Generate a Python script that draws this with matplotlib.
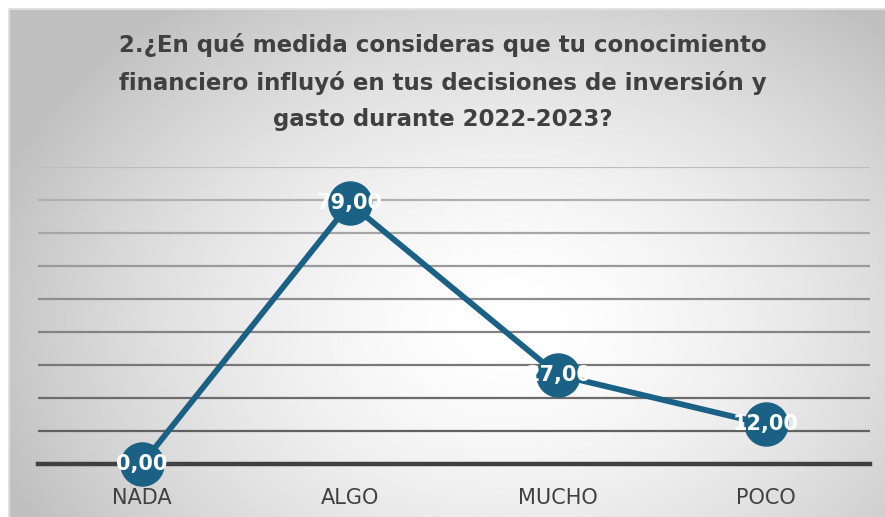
import numpy as np
import matplotlib
matplotlib.use("Agg")
import matplotlib.pyplot as plt
from matplotlib.colors import to_rgb

categories = ["NADA", "ALGO", "MUCHO", "POCO"]
values = [0.0, 79.0, 27.0, 12.0]
title = ("2.¿En qué medida consideras que tu conocimiento\n"
         "financiero influyó en tus decisiones de inversión y\n"
         "gasto durante 2022-2023?")

W, H = 885, 517
plt.rcParams['font.family'] = ['DejaVu Sans']
fig = plt.figure(figsize=(W / 100, H / 100), dpi=100)
fig.patch.set_facecolor("white")

# background radial gradient
bg = fig.add_axes([8 / W, 0, 1 - 8 / W, 509 / H])
bg.set_axis_off()
ny, nx = 300, 500
yy, xx = np.mgrid[0:ny, 0:nx]
cx, cy = 0.57 * nx, 0.62 * ny
r = np.sqrt(((xx - cx) / (0.62 * nx)) ** 2 + ((yy - cy) / (0.80 * ny)) ** 2)
r = np.clip(r, 0, 1)
g = 1 - 0.25 * r ** 1.6
bg.imshow(g, cmap="gray", vmin=0, vmax=1, aspect="auto", extent=[0, 1, 0, 1], origin="upper")
bg.set_xlim(0, 1)
bg.set_ylim(0, 1)
bg.plot([0, 1], [0.999, 0.999], color="#e6e6e6", lw=1.2)
bg.plot([0.001, 0.001], [0, 1], color="#e6e6e6", lw=1.2)

ax = fig.add_axes([38 / W, 53 / H, 832 / W, 297 / H])
ax.set_facecolor("none")
x = np.arange(len(categories))
ax.set_xlim(-0.5, len(categories) - 0.5)
ax.set_ylim(0, 90)
ax.set_yticks(np.arange(0, 91, 10))
ax.yaxis.grid(True, linewidth=1.6)
ax.set_axisbelow(True)
gl = ax.get_ygridlines()
top_c = np.array(to_rgb("#bdbdbd"))
bot_c = np.array(to_rgb("#555555"))
for i, line in enumerate(gl):
    t = i / (len(gl) - 1)
    line.set_color(tuple(bot_c + (top_c - bot_c) * t))
ax.tick_params(axis="y", left=False, labelleft=False)
for s in ["left", "right", "top"]:
    ax.spines[s].set_visible(False)
ax.spines["bottom"].set_color("#404040")
ax.spines["bottom"].set_linewidth(3.2)
ax.spines["bottom"].set_zorder(2.5)
ax.set_xticks(x)
ax.set_xticklabels(categories, fontsize=15, color="#404040")
ax.tick_params(axis="x", length=0, pad=17)

color = "#1b6186"
ax.plot(x, values, color=color, lw=4.2, marker="o", markersize=31,
        markerfacecolor=color, markeredgecolor=color, clip_on=False, zorder=3)
for xi, v in zip(x, values):
    ax.text(xi, v, f"{v:.2f}".replace(".", ","), ha="center", va="center",
            color="white", fontsize=15, fontweight="bold", zorder=4, clip_on=False)

fig.text(0.5, 1 - 82 / H, title, ha="center", va="center", fontsize=16.5,
         fontweight="bold", color="#404040", linespacing=1.75)

fig.savefig("out.png", dpi=100)
